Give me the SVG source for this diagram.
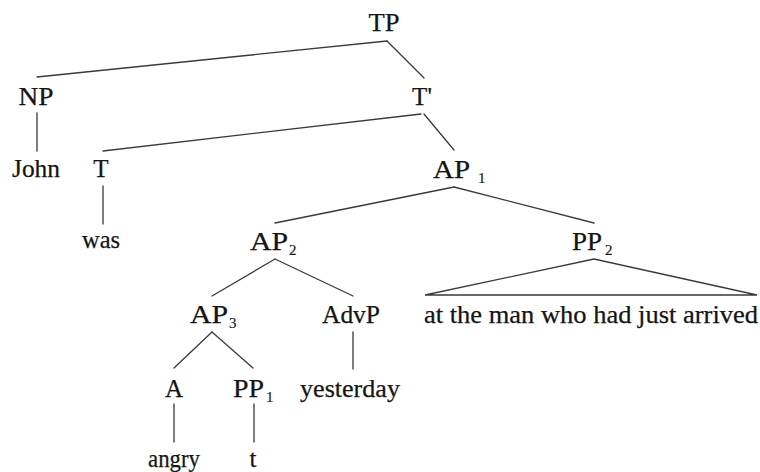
<svg xmlns="http://www.w3.org/2000/svg" width="760" height="472" viewBox="0 0 760 472">
  <style>
    .lbl { font-family: "Liberation Serif", "Times New Roman", serif; font-size: 25px; fill: #151515; stroke: #151515; stroke-width: 0.25; }
    .mid { text-anchor: middle; }
    .sub { font-size: 15px; stroke-width: 0.15; }
    .edge { stroke: #3a3a3a; stroke-width: 1.3; fill: none; stroke-linecap: round; }
  </style>
  <rect width="760" height="472" fill="#ffffff"/>

  <!-- tree branches -->
  <g id="connectors">
    <line class="edge" x1="387" y1="41" x2="37" y2="77"/>
    <line class="edge" x1="387" y1="41" x2="424" y2="78"/>
    <line class="edge" x1="37" y1="113" x2="37" y2="151"/>
    <line class="edge" x1="421" y1="114" x2="103" y2="151"/>
    <line class="edge" x1="424" y1="114" x2="454" y2="150"/>
    <line class="edge" x1="103" y1="186" x2="103" y2="224"/>
    <line class="edge" x1="454" y1="187" x2="275" y2="223"/>
    <line class="edge" x1="454" y1="187" x2="594" y2="223"/>
    <line class="edge" x1="275" y1="259" x2="212" y2="296"/>
    <line class="edge" x1="275" y1="259" x2="353" y2="296"/>
    <polygon class="edge" points="594,259 425,295 757,295"/>
    <line class="edge" x1="212" y1="332" x2="174" y2="368"/>
    <line class="edge" x1="212" y1="332" x2="253" y2="368"/>
    <line class="edge" x1="353" y1="332" x2="353" y2="369"/>
    <line class="edge" x1="174" y1="404" x2="174" y2="442"/>
    <line class="edge" x1="254" y1="404" x2="254" y2="442"/>
  </g>

  <g id="TP"><text class="lbl mid" x="384" y="31" textLength="31" lengthAdjust="spacingAndGlyphs">TP</text></g>
  <g id="NP"><text class="lbl mid" x="36" y="105" textLength="35" lengthAdjust="spacingAndGlyphs">NP</text></g>
  <g id="Tbar"><text class="lbl mid" x="422" y="105">T'</text></g>
  <g id="John"><text class="lbl mid" x="36" y="177" textLength="48" lengthAdjust="spacingAndGlyphs">John</text></g>
  <g id="T"><text class="lbl mid" x="101" y="177">T</text></g>
  <g id="was"><text class="lbl mid" x="101" y="248" textLength="38" lengthAdjust="spacingAndGlyphs">was</text></g>

  <g id="AP1">
    <text class="lbl" x="433" y="178" textLength="37" lengthAdjust="spacingAndGlyphs">AP</text>
    <text class="lbl sub" x="478" y="183">1</text>
  </g>
  <g id="AP2">
    <text class="lbl" x="250" y="250" textLength="38" lengthAdjust="spacingAndGlyphs">AP</text>
    <text class="lbl sub" x="289" y="255">2</text>
  </g>
  <g id="PP2">
    <text class="lbl" x="572" y="250" textLength="30" lengthAdjust="spacingAndGlyphs">PP</text>
    <text class="lbl sub" x="605" y="255">2</text>
  </g>
  <g id="phrase">
    <text class="lbl" x="424" y="323" textLength="334" lengthAdjust="spacingAndGlyphs">at the man who had just arrived</text>
  </g>
  <g id="AP3">
    <text class="lbl" x="190" y="323" textLength="38" lengthAdjust="spacingAndGlyphs">AP</text>
    <text class="lbl sub" x="229" y="328">3</text>
  </g>
  <g id="AdvP"><text class="lbl mid" x="351" y="323" textLength="58" lengthAdjust="spacingAndGlyphs">AdvP</text></g>
  <g id="A"><text class="lbl mid" x="174" y="397">A</text></g>
  <g id="PP1">
    <text class="lbl" x="233" y="397" textLength="31" lengthAdjust="spacingAndGlyphs">PP</text>
    <text class="lbl sub" x="266" y="402">1</text>
  </g>
  <g id="yesterday"><text class="lbl mid" x="350" y="397" textLength="100" lengthAdjust="spacingAndGlyphs">yesterday</text></g>
  <g id="angry"><text class="lbl mid" x="174" y="467" textLength="52" lengthAdjust="spacingAndGlyphs">angry</text></g>
  <g id="t"><text class="lbl mid" x="253" y="467">t</text></g>
</svg>
